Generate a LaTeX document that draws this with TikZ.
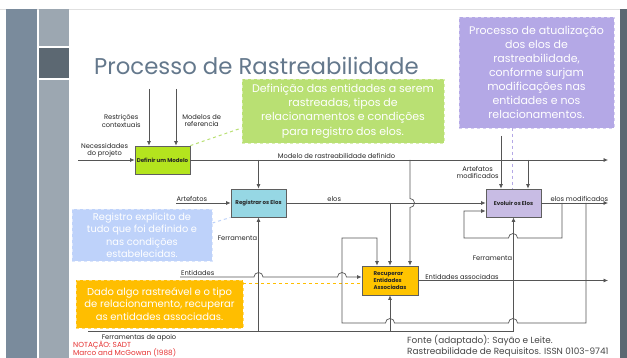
\documentclass[tikz,border=0pt]{standalone}
\usepackage{fontspec}
\setmainfont{Poppins}
\usetikzlibrary{positioning,arrows.meta}

\definecolor{barA}{RGB}{122,139,156}
\definecolor{barB}{RGB}{156,167,177}
\definecolor{barC}{RGB}{92,104,114}
\definecolor{titlec}{RGB}{100,120,140}
\definecolor{boxline}{RGB}{95,95,95}
\definecolor{flowc}{RGB}{85,85,85}
\definecolor{boxgreen}{RGB}{180,228,30}
\definecolor{boxcyan}{RGB}{150,215,228}
\definecolor{boxyellow}{RGB}{255,196,0}
\definecolor{boxlav}{RGB}{200,188,228}
\definecolor{notegreen}{RGB}{185,224,115}
\definecolor{notelav}{RGB}{180,168,230}
\definecolor{noteblue}{RGB}{190,210,250}
\definecolor{noteorange}{RGB}{255,190,0}
\definecolor{notered}{RGB}{230,50,50}
\definecolor{fontec}{RGB}{70,70,70}

\begin{document}
\begin{tikzpicture}[x=1pt,y=-1pt,
    proc/.style={draw=boxline, line width=0.8pt, minimum width=55pt, minimum height=28pt,
      inner sep=1pt, font=\fontsize{5.5}{6.6}\selectfont\bfseries, text=black!85},
    note/.style={draw=#1!55!white, dashed, line width=0.8pt, fill=#1, text=white,
      align=center, inner sep=0pt},
    flow/.style={draw=flowc, line width=0.7pt},
    arr/.style={flow, -{Latex[length=4.5pt,width=4pt]}},
    lbl/.style={font=\fontsize{6.7}{7.6}\selectfont, text=black!85, inner sep=1pt, align=center}]
  \useasboundingbox (0,0) rectangle (627,358);
  \fill[white] (0,0) rectangle (627,358);

  % side bars
  \draw[black!12] (0,9) -- (620,9);
  \fill[barA] (6,9) rectangle (37,358);
  \fill[barB] (39,9) rectangle (69,46);
  \fill[barC] (39,48) rectangle (69,78);
  \fill[barB] (39,80) rectangle (69,358);
  \fill[barC] (620,9) rectangle (627,358);

  \node[anchor=base west, inner sep=0, font=\fontsize{22.8}{26}\selectfont, text=titlec] (title) at (94,75) {Processo de Rastreabilidade};

  % callouts
  \node[note=notegreen, minimum width=202pt, minimum height=64pt, font=\fontsize{11}{14.3}\selectfont] (gnote) at (343,111)
    {Definição das entidades a serem\\rastreadas, tipos de\\relacionamentos e condições\\para registro dos elos.};
  \node[note=notelav, minimum width=155pt, minimum height=111pt, font=\fontsize{11}{14}\selectfont] (pnote) at (536.5,72.5)
    {Processo de atualização\\dos elos de\\rastreabilidade,\\conforme surjam\\modificações nas\\entidades e nos\\relacionamentos.};
  \node[note=noteblue, minimum width=140pt, minimum height=52pt, font=\fontsize{9.8}{12.5}\selectfont] (bnote) at (142,235)
    {Registro explícito de\\tudo que foi definido e\\nas condições\\estabelecidas.};
  \node[note=noteorange, minimum width=167pt, minimum height=48pt, font=\fontsize{10}{12.2}\selectfont] (onote) at (159.5,304)
    {Dado algo rastreável e o tipo\\de relacionamento, recuperar\\as entidades associadas.};

  % activities
  \node[proc, fill=boxgreen] (def) at (162.5,160) {Definir um Modelo};
  \node[proc, fill=boxcyan] (reg) at (258.5,203) {Registrar os Elos};
  \node[proc, fill=boxyellow, minimum width=56pt, minimum height=29pt, align=left] (rec) at (390,280.5) {Recuperar\\Entidades\\Associadas};
  \node[proc, fill=boxlav] (evo) at (513.5,203) {Evoluir os Elos};

  \coordinate (necin) at (78,160);
  \coordinate (restr) at (149,89);
  \coordinate (mref) at (176,89);
  \coordinate (modend) at (608,160);
  \coordinate (recmod) at (410,160);
  \coordinate (artin) at (176,203);
  \coordinate (entin) at (180,277);
  \coordinate (apoio) at (88,331);
  \coordinate (artmod) at (501,136);
  \coordinate (modevo) at (528,160);
  \coordinate (eloend) at (608,203);
  \coordinate (assocend) at (608,280.5);
  \coordinate (selfin) at (464,211);
  \coordinate (fbcorner) at (342,238);
  \coordinate (fbin) at (377,238);
  \coordinate (pdash) at (512,128);

  % dashed callout links
  \draw[dashed, notegreen, line width=1pt] (def.north east) -- ([yshift=-17pt]gnote.west);
  \draw[dashed, noteblue, line width=1pt] ([yshift=12pt]bnote.east) -- (reg.south west);
  \coordinate (ojoin) at ([yshift=-3.5pt]rec.west);
  \draw[dashed, noteorange, line width=1pt] (onote.east |- ojoin) -- (ojoin);
  \draw[dashed, notelav, line width=1pt] (pdash) -- (pdash |- evo.north);

  % Definir um Modelo
  \draw[arr] (necin) -- (def) node[lbl, above=1pt, pos=0.47] {Necessidades\\do projeto};
  \draw[arr] (restr) -- (restr |- def.north) node[lbl, left=7pt, pos=0.56] {Restrições\\contextuais};
  \draw[arr] (mref) -- (mref |- def.north) node[lbl, right=5pt, pos=0.56] {Modelos de\\referencia};
  \draw[arr] (def) -- (modend) node[lbl, above, pos=0.35] {Modelo de rastreabilidade definido};

  % Registrar os Elos
  \draw[arr] (reg |- def) -- (reg);
  \draw[arr] (artin) -- (reg) node[lbl, above, pos=0.29] {Artefatos};
  \draw[arr] (reg) -- (evo) node[lbl, above, pos=0.24] {elos};
  \draw[arr] (reg |- apoio) -- (reg) node[lbl, left, pos=0.82] {Ferramenta};

  % Recuperar Entidades Associadas
  \draw[arr] (recmod) -- ++(0,38.5) arc (-90:90:4.5) -- (recmod |- rec.north);
  \draw[arr] (rec.north |- reg) -- (rec.north);
  \draw[arr] (entin) -- node[lbl, above, pos=0.24] {Entidades} (254,277) arc (180:360:4.5)
    -- (337.5,277) arc (180:360:4.5) -- (rec.west |- entin);
  \draw[arr] (rec |- apoio) -- (rec);
  \draw[arr] (rec) -- (assocend) node[lbl, above, pos=0.23] {Entidades associadas};

  % Evoluir os Elos
  \draw[arr] (artmod) -- (artmod |- evo.north) node[lbl, left=1pt, pos=0.69] {Artefatos\\modificados};
  \draw[arr] (modevo) -- (modevo |- evo.north);
  \draw[arr] (evo) -- (eloend) node[lbl, above, pos=0.57] {elos modificados};
  \draw[arr] (apoio) -- node[lbl, below=2pt, pos=0.12] {Ferramentas de apoio} (evo |- apoio) -- (evo)
    node[lbl, left, pos=0.64] {Ferramenta};
  \draw[arr] (562,203) -- (562,238) -- (517.5,238) arc (0:-180:4.5) -- (464,238) -- (selfin) -- (evo.west |- selfin);
  \draw[arr] (586,203) -- (586,323) -- (517.5,323) arc (0:-180:4.5) -- (394.5,323) arc (0:-180:4.5)
    -- (fbcorner |- 0,323) -- (fbcorner) -- (fbin) -- (fbin |- rec.north);

  % footer
  \node[anchor=base west, inner sep=0, font=\fontsize{7.3}{9}\selectfont, text=notered] (notac) at (73,347.5) {NOTAÇÃO: SADT};
  \node[anchor=base west, inner sep=0, font=\fontsize{7.3}{9}\selectfont, text=notered] (marco) at (73,355.3) {Marco and McGowan (1988)};
  \node[anchor=base west, inner sep=0, font=\fontsize{8.9}{10}\selectfont, text=fontec] (fonte) at (407,343) {Fonte (adaptado): Sayão e Leite.};
  \node[anchor=base west, inner sep=0, font=\fontsize{8.9}{10}\selectfont, text=fontec] (issn) at (407,354.5) {Rastreabilidade de Requisitos. ISSN 0103-9741};
\end{tikzpicture}
\end{document}
